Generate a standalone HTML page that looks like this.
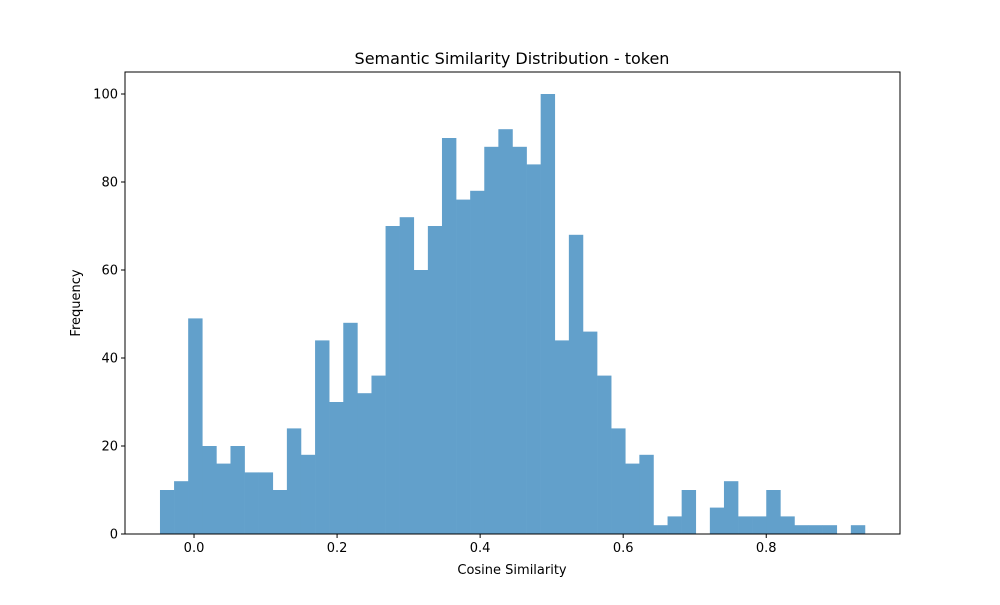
<!DOCTYPE html>
<html><head><meta charset="utf-8"><style>
body{margin:0;background:#fff;font-family:"Liberation Sans","DejaVu Sans",sans-serif;}
svg text{font-family:"DejaVu Sans","Liberation Sans",sans-serif;}
</style></head><body>
<svg id="chart" width="1000" height="600" xmlns="http://www.w3.org/2000/svg">
<rect width="1000" height="600" fill="#fff"/>
<text x="512" y="64" text-anchor="middle" font-size="16">Semantic Similarity Distribution - token</text>
<g id="bars"></g>
<g id="axes"></g>
<text x="512" y="574" text-anchor="middle" font-size="13">Cosine Similarity</text>
<text transform="translate(80,303) rotate(-90)" text-anchor="middle" font-size="13">Frequency</text>
</svg>
<script>
const binStart = -0.0476;
const binEnd = 0.938;
const counts = [10,12,49,20,16,20,14,14,10,24,18,44,30,48,32,36,70,72,60,70,90,76,78,88,92,88,84,100,44,68,46,36,24,16,18,2,4,10,0,6,12,4,4,10,4,2,2,2,0,2];
const xTicks = [0.0,0.2,0.4,0.6,0.8];
const xTickLabels = ["0.0","0.2","0.4","0.6","0.8"];
const yTicks = [0,20,40,60,80,100];
const yTickLabels = ["0","20","40","60","80","100"];

const L=125,R=900,T=72,B=534;
const xMin=-0.0965,xMax=0.987,yMin=0,yMax=105;
const xs=v=>L+(v-xMin)/(xMax-xMin)*(R-L);
const ys=v=>B-(v-yMin)/(yMax-yMin)*(B-T);
const NS="http://www.w3.org/2000/svg";
const bars=document.getElementById('bars');
const w=(binEnd-binStart)/counts.length;
counts.forEach((c,i)=>{
  if(c<=0)return;
  const r=document.createElementNS(NS,'rect');
  const x0=xs(binStart+i*w),x1=xs(binStart+(i+1)*w);
  r.setAttribute('x',x0);r.setAttribute('width',x1-x0+0.3);
  r.setAttribute('y',ys(c));r.setAttribute('height',ys(0)-ys(c));
  r.setAttribute('fill','#62a0cb');
  
  
  bars.appendChild(r);
});
const ax=document.getElementById('axes');
const fr=document.createElementNS(NS,'rect');
fr.setAttribute('x',L);fr.setAttribute('y',T);fr.setAttribute('width',R-L);fr.setAttribute('height',B-T);
fr.setAttribute('fill','none');fr.setAttribute('stroke','#000');fr.setAttribute('stroke-width','1');


ax.appendChild(fr);
xTicks.forEach((v,i)=>{
  const x=xs(v);
  const l=document.createElementNS(NS,'line');
  l.setAttribute('x1',x);l.setAttribute('x2',x);l.setAttribute('y1',B);l.setAttribute('y2',B+4);l.setAttribute('stroke','#000');
  
  
  ax.appendChild(l);
  const t=document.createElementNS(NS,'text');
  t.setAttribute('x',x);t.setAttribute('y',B+18);t.setAttribute('text-anchor','middle');t.setAttribute('font-size','13');
  t.textContent=xTickLabels[i];
  
  
  ax.appendChild(t);
});
yTicks.forEach((v,i)=>{
  const y=ys(v);
  const l=document.createElementNS(NS,'line');
  l.setAttribute('x1',L-4);l.setAttribute('x2',L);l.setAttribute('y1',y);l.setAttribute('y2',y);l.setAttribute('stroke','#000');
  
  
  ax.appendChild(l);
  const t=document.createElementNS(NS,'text');
  t.setAttribute('x',L-7);t.setAttribute('y',y+4.5);t.setAttribute('text-anchor','end');t.setAttribute('font-size','13');
  t.textContent=yTickLabels[i];
  
  
  ax.appendChild(t);
});
</script>
</body></html>
